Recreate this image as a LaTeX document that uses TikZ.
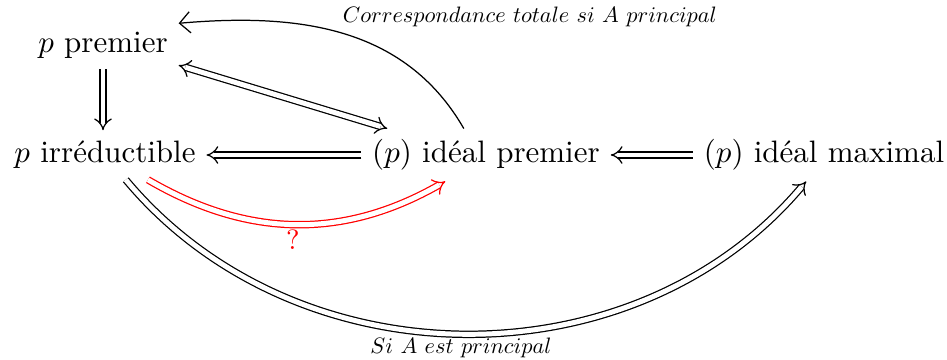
\documentclass[tikz,border=0pt]{standalone}
\usepackage{amsmath}
\usepackage{tikz}
\usetikzlibrary{arrows.meta}

\begin{document}
\begin{tikzpicture}[
  x=0.3226pt, y=0.3226pt,
  implies/.style={double, double distance=1.6pt, -{Implies}},
  equiv/.style={double, double distance=1.6pt, {Implies}-{Implies}},
  cond/.style={scale=0.72, transform shape}
]
\useasboundingbox (0,0) rectangle (947,-360);

% Nodes
\node (pprem) at (103,-45) {$p$ premier};
\node (pirr) at (105,-155) {$p$ irréductible};
\node (idprem) at (486,-155) {$(p)$ idéal premier};
\node (idmax) at (824,-155) {$(p)$ idéal maximal};

% Implications
\draw[implies] (pprem) -- (pprem |- pirr.north);
\draw[implies] (idprem) -- (pirr);
\draw[implies] (idmax) -- (idprem);
\draw[equiv] (pprem.-15) -- (idprem.165);

% Correspondance
\draw[-{Straight Barb[length=1.2mm]}] (idprem.130) to[out=120, in=5] (pprem.16);
\node[cond] (corr) at (530,-17) {$Correspondance\ totale\ si\ A\ principal$};

% Conditional arrows
\draw[implies, red] (pirr.-30) to[bend right=30] (idprem.-147);
\node[red, font=\small] (quest) at (293,-240) {?};
\draw[implies] (pirr.-50) to[bend right=50] (idmax.-124);
\node[cond] (siA) at (461,-348) {$Si\ A\ est\ principal$};

\end{tikzpicture}
\end{document}
